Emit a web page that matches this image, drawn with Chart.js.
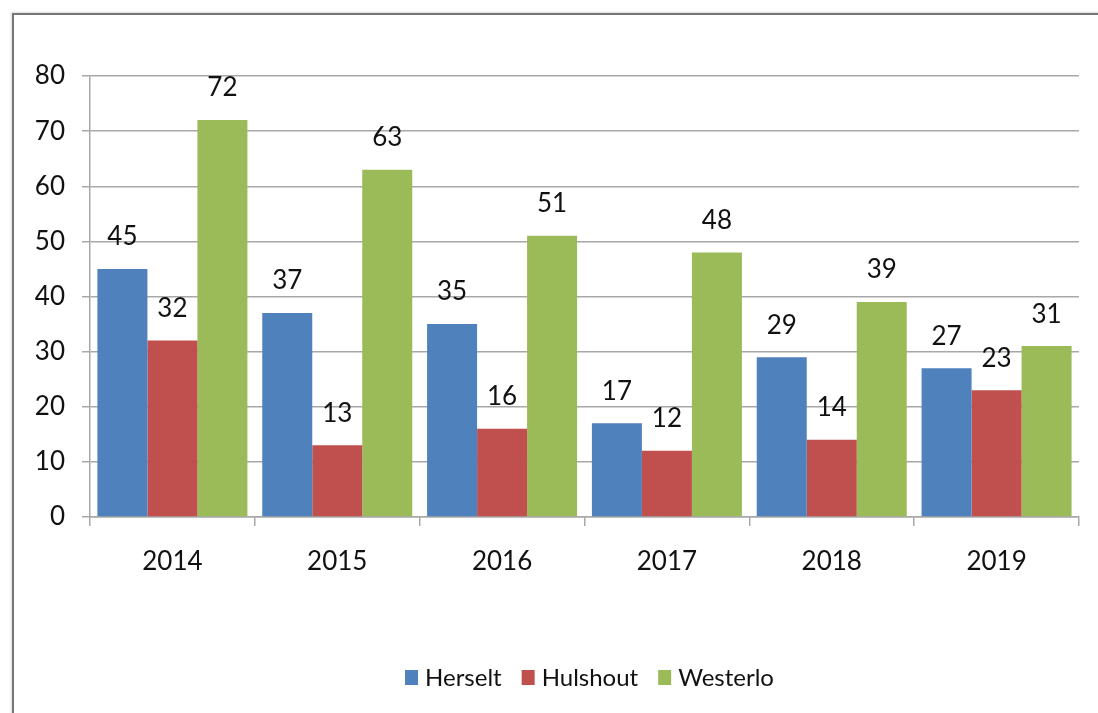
<!DOCTYPE html>
<html>
<head>
<meta charset="utf-8">
<script src="https://cdn.jsdelivr.net/npm/chart.js@4/dist/chart.umd.min.js"></script>
<style>
    html, body { margin: 0; padding: 0; background: #fff; }
    #wrap { position: relative; width: 1098px; height: 713px; overflow: hidden; }
    #frame {
        position: absolute; left: 12px; top: 13px; right: -4px; bottom: -4px;
        border-left: 2px solid #767676; border-top: 2px solid #767676;
        box-shadow: -1px -1px 2px rgba(0,0,0,0.15);
    }
    canvas { position: absolute; left: 0; top: 0; }
</style>
</head>
<body>
<div id="wrap">
    <div id="frame"></div>
    <canvas id="barChart" width="1098" height="713"></canvas>
</div>
<script>
const years = ['2014', '2015', '2016', '2017', '2018', '2019'];
const herselt = [45, 37, 35, 17, 29, 27];
const hulshout = [32, 13, 16, 12, 14, 23];
const westerlo = [72, 63, 51, 48, 39, 31];

const fontFamily = 'Lato, "Open Sans", sans-serif';
const gridColor = '#a8a8a8';
const textColor = '#111';

// Writes each bar's value above it
const valueLabels = {
    id: 'valueLabels',
    afterDatasetsDraw(chart) {
        const ctx = chart.ctx;
        ctx.save();
        ctx.font = '26px ' + fontFamily;
        ctx.fillStyle = textColor;
        ctx.textAlign = 'center';
        ctx.textBaseline = 'middle';
        chart.data.datasets.forEach((ds, i) => {
            chart.getDatasetMeta(i).data.forEach((bar, j) => {
                ctx.fillText(ds.data[j], bar.x, bar.y - 32);
            });
        });
        ctx.restore();
    }
};

// Legend row under the plot, centred on the plot area
const bottomLegend = {
    id: 'bottomLegend',
    afterDraw(chart) {
        const ctx = chart.ctx;
        const area = chart.chartArea;
        const y = 677;
        ctx.save();
        ctx.font = '24px ' + fontFamily;
        ctx.textBaseline = 'middle';
        const items = chart.data.datasets.map(ds => ({
            label: ds.label,
            color: ds.backgroundColor,
            w: 13 + 7 + ctx.measureText(ds.label).width
        }));
        const gap = 20;
        const total = items.reduce((s, it) => s + it.w, 0) + gap * (items.length - 1);
        let x = (area.left + area.right) / 2 + 5 - total / 2;
        items.forEach(it => {
            ctx.fillStyle = it.color;
            ctx.fillRect(x, y - 7, 13, 15);
            ctx.fillStyle = textColor;
            ctx.fillText(it.label, x + 20, y + 1);
            x += it.w + gap;
        });
        ctx.restore();
    }
};

const ctx = document.getElementById('barChart').getContext('2d');
new Chart(ctx, {
    type: 'bar',
    data: {
        labels: years,
        datasets: [
            { label: 'Herselt', data: herselt, backgroundColor: '#4F81BD' },
            { label: 'Hulshout', data: hulshout, backgroundColor: '#C0504D' },
            { label: 'Westerlo', data: westerlo, backgroundColor: '#9BBB59' }
        ]
    },
    options: {
        responsive: false,
        animation: false,
        devicePixelRatio: 1,
        categoryPercentage: 0.91,
        barPercentage: 1,
        layout: { padding: { left: 0, right: 19, top: 76, bottom: 60 } },
        plugins: {
            tooltip: { enabled: false },
            legend: { display: false }
        },
        scales: {
            x: {
                grid: {
                    offset: true,
                    drawOnChartArea: false,
                    color: gridColor,
                    lineWidth: 1.5,
                    tickLength: 9
                },
                border: { color: gridColor, width: 1.5 },
                ticks: {
                    font: { family: fontFamily, size: 26 },
                    color: textColor,
                    padding: 20
                },
                afterFit(scale) { scale.height = 136; }
            },
            y: {
                min: 0,
                max: 80,
                ticks: {
                    stepSize: 10,
                    font: { family: fontFamily, size: 26 },
                    color: textColor,
                    padding: 17
                },
                grid: { color: gridColor, lineWidth: 1.5, tickLength: 8 },
                border: { color: gridColor, width: 1.5 },
                afterFit(scale) { scale.width = 90; }
            }
        }
    },
    plugins: [valueLabels, bottomLegend]
});
</script>
</body>
</html>
